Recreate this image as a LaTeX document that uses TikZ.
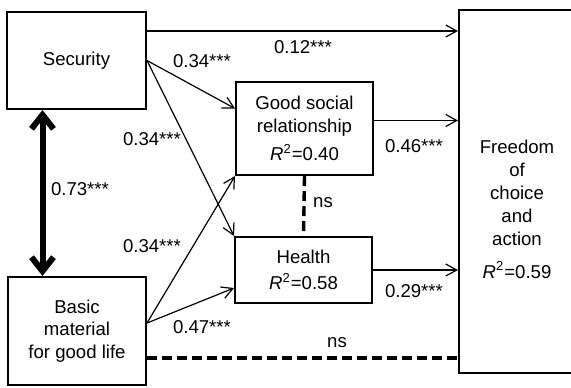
\documentclass[tikz,border=0pt]{standalone}
\usepackage{fontspec}
\setmainfont{Liberation Sans}
\usetikzlibrary{arrows.meta}
\newcommand{\rsq}[1]{\textit{R}\textsuperscript{2}=#1}
\begin{document}
\begin{tikzpicture}[x=0.5pt, y=-0.5pt, font=\fontsize{9.3}{11.5}\selectfont,
		box/.style={draw, line width=1pt, align=center, inner sep=0pt},
		lbl/.style={anchor=base, inner sep=0pt},
		arr/.style={-{Straight Barb[length=5.5pt,width=6pt]}, line width=0.6pt},
		nsline/.style={line width=1.7pt, dash pattern=on 5pt off 2.5pt},
		corr/.style={{Straight Barb[length=7pt,width=11pt]}-{Straight Barb[length=7pt,width=11pt]}, line width=3pt}]
		
		\useasboundingbox (0,0) rectangle (571,387);
		\clip (0,0) rectangle (571,387);
		
		\node[box, minimum width=69.5pt, minimum height=48.5pt] (sec) at (76.5,60.5) {Security};
		\node[box, minimum width=69pt, minimum height=54pt, font=\fontsize{9.3}{11.25}\selectfont] (bas) at (77,331) {Basic\\material\\for good life};
		\node[box, minimum width=68.5pt, minimum height=46.5pt] (gsr) at (304.5,128.5) {Good social\\relationship\\[2.5pt]\rsq{0.40}};
		\node[box, minimum width=68.5pt, minimum height=33pt] (hea) at (303.5,270) {Health\\[1.5pt]\rsq{0.58}};
		\node[box, minimum width=60.5pt, minimum height=181.5pt] (fre) at (519.5,191.5) {};
		\node[align=center, inner sep=0pt] (frt) at (517,209) {Freedom\\of\\choice\\and\\action\\[5pt]\rsq{0.59}};
		
		\coordinate (s1) at ([yshift=-10pt]sec.north east);
		\coordinate (s2) at ([xshift=-17pt]sec.south);
		\coordinate (b1) at ([yshift=4pt]bas.east);
		\coordinate (b2) at ([yshift=-13.5pt]bas.east);
		\coordinate (g1) at ([yshift=4pt]gsr.east);
		
		\draw[arr] (s1) -- (s1 -| fre.west);
		\draw[arr] (sec.east) -- ([yshift=10pt]gsr.west);
		\draw[arr] (sec.east) -- (hea.north west);
		\draw[arr] (b1) -- (gsr.south west);
		\draw[arr] (b1) -- ([yshift=-9pt]hea.west);
		\draw[arr] (g1) -- (g1 -| fre.west);
		\draw[arr] (hea.east) -- (hea.east -| fre.west);
		\draw[nsline] (gsr.south) -- (hea.north);
		\draw[nsline] (b2) -- (b2 -| fre.west);
		\draw[corr] (s2) -- (s2 |- bas.north);
		
		\node[lbl] (l1) at (303,53) {0.12***};
		\node[lbl] (l2) at (202,67) {0.34***};
		\node[lbl] (l3) at (152,145) {0.34***};
		\node[lbl] (l4) at (80,195) {0.73***};
		\node[lbl] (l5) at (152,252) {0.34***};
		\node[lbl] (l6) at (202,333) {0.47***};
		\node[lbl] (l7) at (414,152) {0.46***};
		\node[lbl] (l8) at (414,297) {0.29***};
		\node[lbl] (l9) at (323,207) {ns};
		\node[lbl] (l10) at (337,347) {ns};
		
	\end{tikzpicture}
\end{document}
